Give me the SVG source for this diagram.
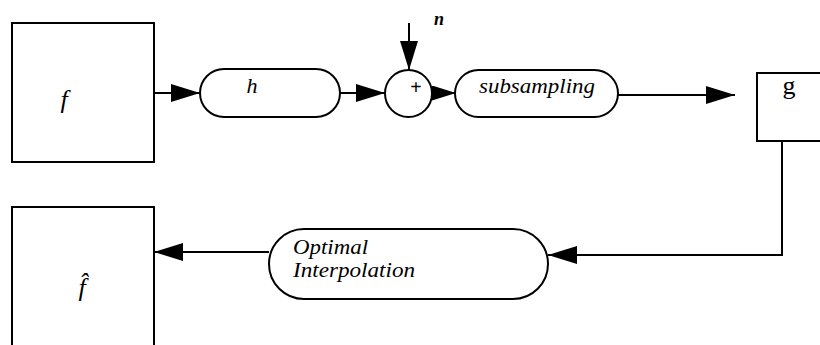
<svg xmlns="http://www.w3.org/2000/svg" width="820" height="345" viewBox="0 0 820 345">
<defs>
<style>
.box{fill:#fff;stroke:#000;stroke-width:2}
.ln{fill:none;stroke:#000;stroke-width:2}
.it{font-family:'Liberation Serif','DejaVu Serif',serif;font-style:italic;fill:#000}
.up{font-family:'Liberation Serif','DejaVu Serif',serif;fill:#000}
</style>
<marker id="arr" markerUnits="userSpaceOnUse" markerWidth="30" markerHeight="20" refX="29" refY="9" orient="auto">
<path d="M0,0 L29,9 L0,18 Z" fill="#000"/>
</marker>
<marker id="arrS" markerUnits="userSpaceOnUse" markerWidth="26" markerHeight="16" refX="24" refY="7.5" orient="auto">
<path d="M0,0 L24,7.5 L0,15 Z" fill="#000"/>
</marker>
</defs>
<rect width="820" height="345" fill="#fff"/>
<g id="connectors">
<line class="ln" x1="154" y1="93" x2="200" y2="93" marker-end="url(#arr)"/>
<line class="ln" x1="340" y1="93" x2="385" y2="93" marker-end="url(#arr)"/>
<line class="ln" x1="409" y1="23" x2="409" y2="70" marker-end="url(#arr)"/>
<line class="ln" x1="432" y1="93" x2="456" y2="93" marker-end="url(#arrS)"/>
<line class="ln" x1="618" y1="95" x2="735" y2="95" marker-end="url(#arr)"/>
<path class="ln" d="M782,141 V255 H548" marker-end="url(#arr)"/>
<line class="ln" x1="269" y1="252" x2="154" y2="252" marker-end="url(#arr)"/>
</g>
<g id="node-f">
<rect class="box" x="12" y="23" width="142" height="139"/>
<text class="it" font-family="Liberation Serif" x="64" y="108" font-size="26" text-anchor="middle">f</text>
</g>
<g id="node-h">
<rect class="box" x="200" y="69" width="140" height="48" rx="24"/>
<text class="it" font-family="Liberation Serif" x="252" y="93" font-size="22" text-anchor="middle">h</text>
</g>
<g id="node-sum">
<circle class="box" cx="408.5" cy="93.5" r="23.5"/>
<text class="up" font-family="Liberation Serif" x="416" y="94" font-size="20" font-weight="bold" text-anchor="middle">+</text>
</g>
<g id="node-n">
<text class="it" font-family="Liberation Serif" x="439" y="25" font-size="18" font-weight="bold" text-anchor="middle">n</text>
</g>
<g id="node-subsampling">
<rect class="box" x="455" y="70" width="163" height="47" rx="23.5"/>
<text class="it" font-family="Liberation Serif" x="479" y="93" font-size="22" textLength="116" lengthAdjust="spacingAndGlyphs">subsampling</text>
</g>
<g id="node-g">
<rect class="box" x="757" y="73" width="80" height="68"/>
<text class="up" font-family="Liberation Serif" x="789" y="94" font-size="26" text-anchor="middle">g</text>
</g>
<g id="node-interp">
<rect class="box" x="269" y="229" width="279" height="70" rx="35"/>
<text class="it" font-family="Liberation Serif" x="293" y="254" font-size="20" textLength="75" lengthAdjust="spacingAndGlyphs">Optimal</text>
<text class="it" font-family="Liberation Serif" x="293" y="277" font-size="20" textLength="122" lengthAdjust="spacingAndGlyphs">Interpolation</text>
</g>
<g id="node-fhat">
<rect class="box" x="12" y="207" width="142" height="160"/>
<text class="it" font-family="Liberation Serif" x="82" y="296" font-size="26" text-anchor="middle">f̂</text>
</g>
</svg>
